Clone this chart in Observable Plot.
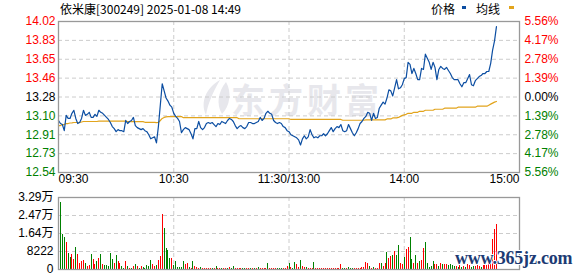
<!DOCTYPE html>
<html><head><meta charset="utf-8">
<script src="https://cdn.jsdelivr.net/npm/d3@7"></script>
<script src="https://cdn.jsdelivr.net/npm/@observablehq/plot@0.6"></script>
<style>
body{margin:0;background:#fff;}
#wrap{position:relative;width:578px;height:276px;overflow:hidden;font-family:"Liberation Sans",Arial,"Noto Sans CJK SC",sans-serif;}
.abs{position:absolute;white-space:nowrap;}
#wrap svg{position:absolute;left:0;}
</style></head><body><div id="wrap"></div>
<script>
// ---- data ----
const stockTitle = "依米康[300249] 2025-01-08 14:49";
const legendLabels = ["价格", "均线"];
const watermarkText = "东方财富";
const siteText = "www.365jz.com";
const priceTickLabels = ["12.54","12.73","12.91","13.10","13.28","13.46","13.65","13.83","14.02"];
const pctTickLabels = ["5.56%","4.17%","2.78%","1.39%","0.00%","1.39%","2.78%","4.17%","5.56%"];
const volTickLabels = ["0","8222","1.64万","2.47万","3.29万"];
const timeTickLabels = ["09:30","10:30","11:30/13:00","14:00","15:00"];
const timeTickIndex = [0,60,120,180,240];
const priceMin = 12.54, priceMax = 14.02, prevClose = 13.28;
const volMax = 32888;
// price per minute, 09:30 .. 14:49
const priceValues = [
13.05,13.02,13.01,12.95,13.10,13.07,13.07,13.12,13.15,13.07,
13.02,13.03,13.07,13.15,13.10,13.11,13.13,13.08,13.08,13.11,
13.09,13.15,13.13,13.12,13.10,13.08,13.06,13.03,12.99,12.97,
12.94,12.96,12.95,12.95,12.94,13.05,13.02,13.04,13.05,13.08,
13.00,12.98,12.97,12.96,12.97,12.95,12.94,12.91,12.87,12.88,
12.89,12.83,12.99,13.20,13.41,13.34,13.27,13.24,13.20,13.18,
13.12,13.09,13.07,13.04,12.93,12.96,12.98,12.97,12.96,12.92,
12.87,12.97,12.97,13.04,12.98,12.96,12.98,13.02,13.03,13.02,
13.03,13.01,12.99,13.02,13.01,13.04,13.03,13.02,13.05,13.07,
13.06,13.04,13.00,12.97,12.99,13.00,12.98,12.97,12.99,13.03,
13.03,13.02,13.02,13.03,13.04,13.08,13.05,13.07,13.12,13.14,
13.12,13.11,13.05,13.03,13.02,13.03,13.02,12.99,12.98,12.95,
12.94,12.91,12.90,12.89,12.88,12.86,12.81,12.87,12.90,12.87,
12.89,12.96,12.91,12.88,12.89,12.88,12.90,12.90,12.92,12.90,
12.92,12.95,12.98,12.94,12.97,12.99,12.98,13.01,12.95,12.94,
12.95,13.01,12.97,12.93,12.90,12.93,12.97,13.02,13.04,13.07,
13.09,13.13,13.12,13.05,13.12,13.07,13.08,13.17,13.20,13.23,
13.21,13.27,13.35,13.34,13.29,13.37,13.45,13.36,13.37,13.40,
13.46,13.47,13.62,13.60,13.51,13.56,13.51,13.45,13.45,13.56,
13.55,13.70,13.66,13.62,13.55,13.62,13.57,13.45,13.55,13.58,
13.56,13.55,13.57,13.54,13.51,13.47,13.45,13.45,13.45,13.41,
13.38,13.42,13.42,13.46,13.50,13.40,13.39,13.44,13.46,13.48,
13.49,13.51,13.51,13.53,13.53,13.61,13.74,13.83,13.97];
// average price per minute
const avgValues = [
13.00,13.00,13.01,13.01,13.02,13.02,13.025,13.027,13.03,13.03,
13.03,13.03,13.035,13.04,13.04,13.04,13.04,13.04,13.04,13.04,
13.04,13.043,13.043,13.043,13.043,13.043,13.043,13.043,13.043,13.043,
13.043,13.043,13.043,13.043,13.043,13.043,13.038,13.038,13.038,13.038,
13.038,13.038,13.038,13.038,13.038,13.032,13.032,13.032,13.032,13.032,
13.032,13.028,13.03,13.05,13.07,13.08,13.085,13.088,13.088,13.088,
13.088,13.088,13.088,13.088,13.088,13.077,13.077,13.077,13.077,13.077,
13.077,13.077,13.077,13.077,13.077,13.077,13.077,13.077,13.077,13.077,
13.077,13.077,13.077,13.077,13.077,13.077,13.077,13.077,13.077,13.077,
13.077,13.077,13.077,13.077,13.067,13.067,13.067,13.067,13.067,13.067,
13.067,13.067,13.067,13.067,13.067,13.067,13.067,13.067,13.067,13.067,
13.067,13.067,13.067,13.067,13.067,13.067,13.067,13.067,13.067,13.067,
13.067,13.06,13.06,13.06,13.06,13.06,13.06,13.06,13.06,13.06,
13.06,13.06,13.06,13.06,13.06,13.06,13.06,13.06,13.06,13.06,
13.06,13.06,13.06,13.06,13.06,13.06,13.06,13.06,13.052,13.052,
13.052,13.052,13.052,13.052,13.052,13.052,13.052,13.052,13.052,13.052,
13.056,13.056,13.056,13.056,13.056,13.056,13.056,13.056,13.056,13.056,
13.056,13.065,13.065,13.065,13.075,13.075,13.075,13.08,13.09,13.10,
13.105,13.11,13.12,13.12,13.12,13.13,13.13,13.13,13.14,13.14,
13.14,13.15,13.15,13.15,13.15,13.15,13.16,13.16,13.16,13.16,
13.16,13.17,13.17,13.17,13.17,13.17,13.17,13.17,13.18,13.18,
13.18,13.18,13.18,13.18,13.18,13.18,13.18,13.18,13.19,13.19,
13.19,13.19,13.19,13.19,13.20,13.21,13.22,13.23,13.236];
// volume per minute, 09:31 .. 14:49
const volumeValues = [
30580,16200,14840,12110,7420,5300,6960,4390,9990,6960,
2880,3480,3940,2880,1360,1670,6960,4390,2120,3630,
5150,6660,2120,1670,1670,1210,7420,4390,2570,6210,
3480,2880,1360,450,3480,1210,450,450,1210,2120,
1210,450,1210,760,450,1670,1210,3940,2120,1360,
1670,3940,5750,25130,18770,9390,8480,5150,5150,1670,
3480,760,760,760,3480,2120,2570,760,450,3480,
1210,760,450,760,450,450,450,450,450,450,
450,1210,450,450,450,450,450,450,760,450,
1210,450,450,450,450,450,450,450,450,450,
450,450,450,760,450,450,450,450,2570,450,
450,450,450,450,450,450,450,450,1210,2570,
760,450,3030,2120,760,3940,1210,760,760,450,
450,450,3030,450,450,450,450,450,450,450,
450,450,450,450,450,450,2120,450,450,450,
760,450,450,450,450,450,450,760,760,3030,
2570,1210,450,760,450,450,2570,2570,1210,2570,
7570,4850,5750,6210,8020,6210,10750,2570,2120,5300,
8930,9840,14840,4390,2570,6210,2570,3480,3940,9390,
12110,2570,760,1210,3480,2120,2120,1210,2570,2120,
2120,2120,1670,2120,1670,1210,1210,760,1670,760,
1210,760,2120,1670,760,1210,1210,1670,1210,760,
1670,2120,1670,2120,2570,13480,18170,20740];
// r = up minute, g = down minute
const volumeDirs = ("gggrggrrgr rrrgrrgrrg rgrgggggrg rrggrgrgrg rgrgggggrr " +
  "grrrggggrg gggggrrgrg rrrgrrrrrg rgrrgrrgrg grrrrggrrg " +
  "rgrgrrrrgr rrrgggrrrg rggrrgrrgr rrgrrrrrrr rrrrrrrggr " +
  "gggrrrrrrr rgrgrrrgrr grrgrggrrg rrggrgrgrr gggggrrgrg " +
  "rrggggrgrg rgrrggrrrg rrrrrrrr").replace(/ /g, "").split("");

// ---- build ----
const red = "#ff0000", green = "#008000", black = "#000000";
const blue = "#0c4ea2", gold = "#e2a41c";
const wrap = document.getElementById("wrap");

const pticks = priceTickLabels.map((label, k) => ({
  v: priceMin + k * (priceMax - priceMin) / 8, label, pct: pctTickLabels[k],
  c: k > 4 ? red : (k < 4 ? green : black)
}));
const timeTicks = timeTickIndex.map((i, k) => ({i, label: timeTickLabels[k]}));
const priceData = priceValues.map((v, i) => ({i, v}));
const avgData = avgValues.map((v, i) => ({i, v}));
const volData = volumeValues.map((v, k) => ({i: k + 1, v, c: volumeDirs[k] === "r" ? red : green}));
const vticks = volTickLabels.map((label, k) => ({v: k * volMax / 4, label}));

const grid = {stroke: "#cccccc", strokeDasharray: "4,3", strokeWidth: 1};
const font = {fontFamily: '"Liberation Sans", Arial, "Noto Sans CJK SC", sans-serif', fontSize: "12px", background: "none", overflow: "visible"};

// watermark behind
const wm = document.createElement("div");
wm.className = "abs";
wm.style.cssText = "left:231px;top:74px;font:bold 34px 'Noto Sans CJK SC';letter-spacing:4px;color:#e7e7ec;";
wm.textContent = watermarkText;
wrap.appendChild(wm);
const logo = document.createElementNS("http://www.w3.org/2000/svg", "svg");
logo.setAttribute("width", "40"); logo.setAttribute("height", "40");
logo.style.cssText = "position:absolute;left:196px;top:78px;";
logo.innerHTML = '<path d="M24 2 C10 10 4 24 10 37 C12 26 16 16 24 2 Z" fill="#e7e7ec"/><path d="M30 4 C22 14 20 26 26 36 C34 28 36 14 30 4 Z" fill="#e7e7ec"/>';
wrap.appendChild(logo);

const pricePlot = Plot.plot({
  width: 578, height: 190,
  marginTop: 21, marginBottom: 18, marginLeft: 58, marginRight: 59,
  x: {domain: [0, 240], axis: null},
  y: {domain: [priceMin, priceMax], axis: null},
  color: {type: "identity"},
  style: font,
  marks: [
    Plot.ruleY(pticks.slice(1, -1), {y: "v", ...grid}),
    Plot.ruleX(timeTicks.slice(1, -1), {x: "i", ...grid}),
    Plot.line(avgData, {x: "i", y: "v", stroke: gold, strokeWidth: 1.2}),
    Plot.line(priceData, {x: "i", y: "v", stroke: blue, strokeWidth: 1.2}),
    Plot.frame({stroke: "#999999", strokeWidth: 1.3}),
    Plot.text(pticks, {y: "v", text: "label", fill: "c", frameAnchor: "left", textAnchor: "end", dx: -3}),
    Plot.text(pticks, {y: "v", text: "pct", fill: "c", frameAnchor: "right", textAnchor: "start", dx: 5}),
    Plot.text(timeTicks.slice(0, 1), {x: "i", text: "label", frameAnchor: "bottom", textAnchor: "start", dy: 10, fill: black}),
    Plot.text(timeTicks.slice(1, 4), {x: "i", text: "label", frameAnchor: "bottom", textAnchor: "middle", dy: 10, fill: black}),
    Plot.text(timeTicks.slice(4), {x: "i", text: "label", frameAnchor: "bottom", textAnchor: "end", dy: 10, fill: black})
  ]
});
pricePlot.style.top = "0px";
wrap.appendChild(pricePlot);

const volPlot = Plot.plot({
  width: 578, height: 86,
  marginTop: 7, marginBottom: 7, marginLeft: 58, marginRight: 59,
  x: {domain: [0, 240], axis: null},
  y: {domain: [0, volMax], axis: null},
  color: {type: "identity"},
  style: font,
  marks: [
    Plot.ruleY(vticks.slice(1, -1), {y: "v", ...grid}),
    Plot.ruleX(timeTicks.slice(1, -1), {x: "i", ...grid}),
    Plot.ruleX(volData, {x: "i", y1: 0, y2: "v", stroke: "c", strokeWidth: 1, shapeRendering: "crispEdges"}),
    Plot.frame({stroke: "#999999", strokeWidth: 1.3}),
    Plot.text(vticks, {y: "v", text: "label", fill: black, frameAnchor: "left", textAnchor: "end", dx: -5})
  ]
});
volPlot.style.top = "190px";
wrap.appendChild(volPlot);

// title and legend
function addText(txt, css) {
  const d = document.createElement("div");
  d.className = "abs"; d.style.cssText = css; d.textContent = txt;
  wrap.appendChild(d); return d;
}
addText(stockTitle, "left:60px;top:1px;font:12px 'Noto Sans CJK SC';line-height:15px;color:#000;");
addText(legendLabels[0], "left:431px;top:1px;font:12px 'Noto Sans CJK SC';line-height:15px;color:#000;");
addText(legendLabels[1], "left:476px;top:1px;font:12px 'Noto Sans CJK SC';line-height:15px;color:#000;");
addText("", "left:462px;top:6px;width:4px;height:3px;background:" + blue + ";");
addText("", "left:509px;top:6px;width:5px;height:3px;background:" + gold + ";");
addText(siteText, "left:455px;top:248px;font:bold 18px 'Liberation Serif',serif;color:#1d3b74;letter-spacing:-0.2px;text-shadow:-1px 0 #fff,1px 0 #fff,0 -1px #fff,0 1px #fff;");
</script></body></html>
